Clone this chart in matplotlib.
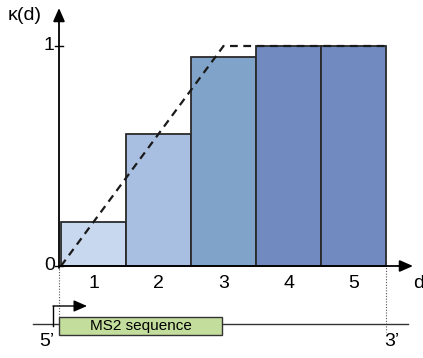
import matplotlib
matplotlib.use("Agg")
import matplotlib.pyplot as plt
from matplotlib.patches import Rectangle

plt.rcParams['font.family'] = ['Liberation Sans', 'DejaVu Sans']

# Data
positions = [1, 2, 3, 4, 5]
kappa = [0.2, 0.6, 0.95, 1.0, 1.0]
bar_colors = ['#c8d8ee', '#a9bfe2', '#80a3c9', '#718bc0', '#718bc0']
ideal_d = [0.5, 3.0, 5.5]
ideal_k = [0.0, 1.0, 1.0]
tick_labels = ['1', '2', '3', '4', '5']

W, H = 423, 358
fig = plt.figure(figsize=(W / 100, H / 100), dpi=100)
ax = fig.add_axes([0, 0, 1, 1])
# map: pixel x=61 -> d=0.5, 65 px per unit; pixel y=266 -> 0, 220 px per unit
def px2d(px):
    return 0.5 + (px - 61) / 65.0
def py2k(py):
    return (266 - py) / 220.0
ax.set_xlim(px2d(0), px2d(W))
ax.set_ylim(py2k(H), py2k(0))
ax.axis('off')

# bars
ax.bar(positions, kappa, width=1.0, color=bar_colors, edgecolor='#2a2a2a',
       linewidth=1.3, zorder=2)

# dashed ideal curve
ax.plot(ideal_d, ideal_k, linestyle=(0, (3.5, 2.5)), color='#1a1a1a', lw=1.6, zorder=3)

x0 = px2d(59)
# axes with arrows
ax.annotate('', xy=(px2d(413), 0), xytext=(x0, 0),
            arrowprops=dict(arrowstyle='-|>,head_length=0.8,head_width=0.35',
                            color='black', lw=1.3, shrinkA=0, shrinkB=0), zorder=4)
ax.annotate('', xy=(x0, py2k(8)), xytext=(x0, py2k(268)),
            arrowprops=dict(arrowstyle='-|>,head_length=0.8,head_width=0.35',
                            color='black', lw=1.3, shrinkA=0, shrinkB=0), zorder=4)
# y ticks
for v in [0, 1]:
    ax.plot([px2d(55), px2d(63)], [v, v], color='black', lw=1.0, zorder=4)
fs = 14
ax.text(px2d(54), 1, '1', ha='right', va='center', fontsize=fs)
ax.text(px2d(55), py2k(265), '0', ha='right', va='center', fontsize=fs)
ax.text(px2d(8), py2k(15), 'κ(d)', ha='left', va='center', fontsize=fs)
ax.text(px2d(413), py2k(283), 'd', ha='left', va='center', fontsize=fs)

for p, lab in zip(positions, tick_labels):
    ax.text(p, py2k(283), lab, ha='center', va='center', fontsize=fs)

# dotted guides
ax.plot([x0, x0], [0, py2k(320)], color='#555555', lw=0.8, linestyle=(0, (1, 1.5)), zorder=1)
ax.plot([5.5, 5.5], [py2k(262), py2k(332)], color='#555555', lw=0.8, linestyle=(0, (1, 1.5)), zorder=1)

# gene diagram
yl = py2k(324)
ax.plot([px2d(33), px2d(408)], [yl, yl], color='#333333', lw=1.0, zorder=1)
ax.add_patch(Rectangle((x0, py2k(335)), px2d(222) - x0, py2k(317) - py2k(335),
                       facecolor='#c3dd9c', edgecolor='#333333', lw=1.0, zorder=2))
ax.text((x0 + px2d(222)) / 2, py2k(326), 'MS2 sequence', ha='center', va='center', fontsize=11)
ax.text(px2d(47), py2k(342), "5’", ha='center', va='center', fontsize=fs)
ax.text(px2d(392), py2k(342), "3’", ha='center', va='center', fontsize=fs)
# promoter arrow
ax.plot([px2d(53), px2d(53)], [py2k(326), py2k(306)], color='black', lw=1.0, zorder=3)
ax.annotate('', xy=(px2d(87), py2k(306)), xytext=(px2d(53), py2k(306)),
            arrowprops=dict(arrowstyle='-|>,head_length=0.8,head_width=0.35',
                            color='black', lw=1.0, shrinkA=0, shrinkB=0), zorder=3)

fig.savefig('out.png', dpi=100)
